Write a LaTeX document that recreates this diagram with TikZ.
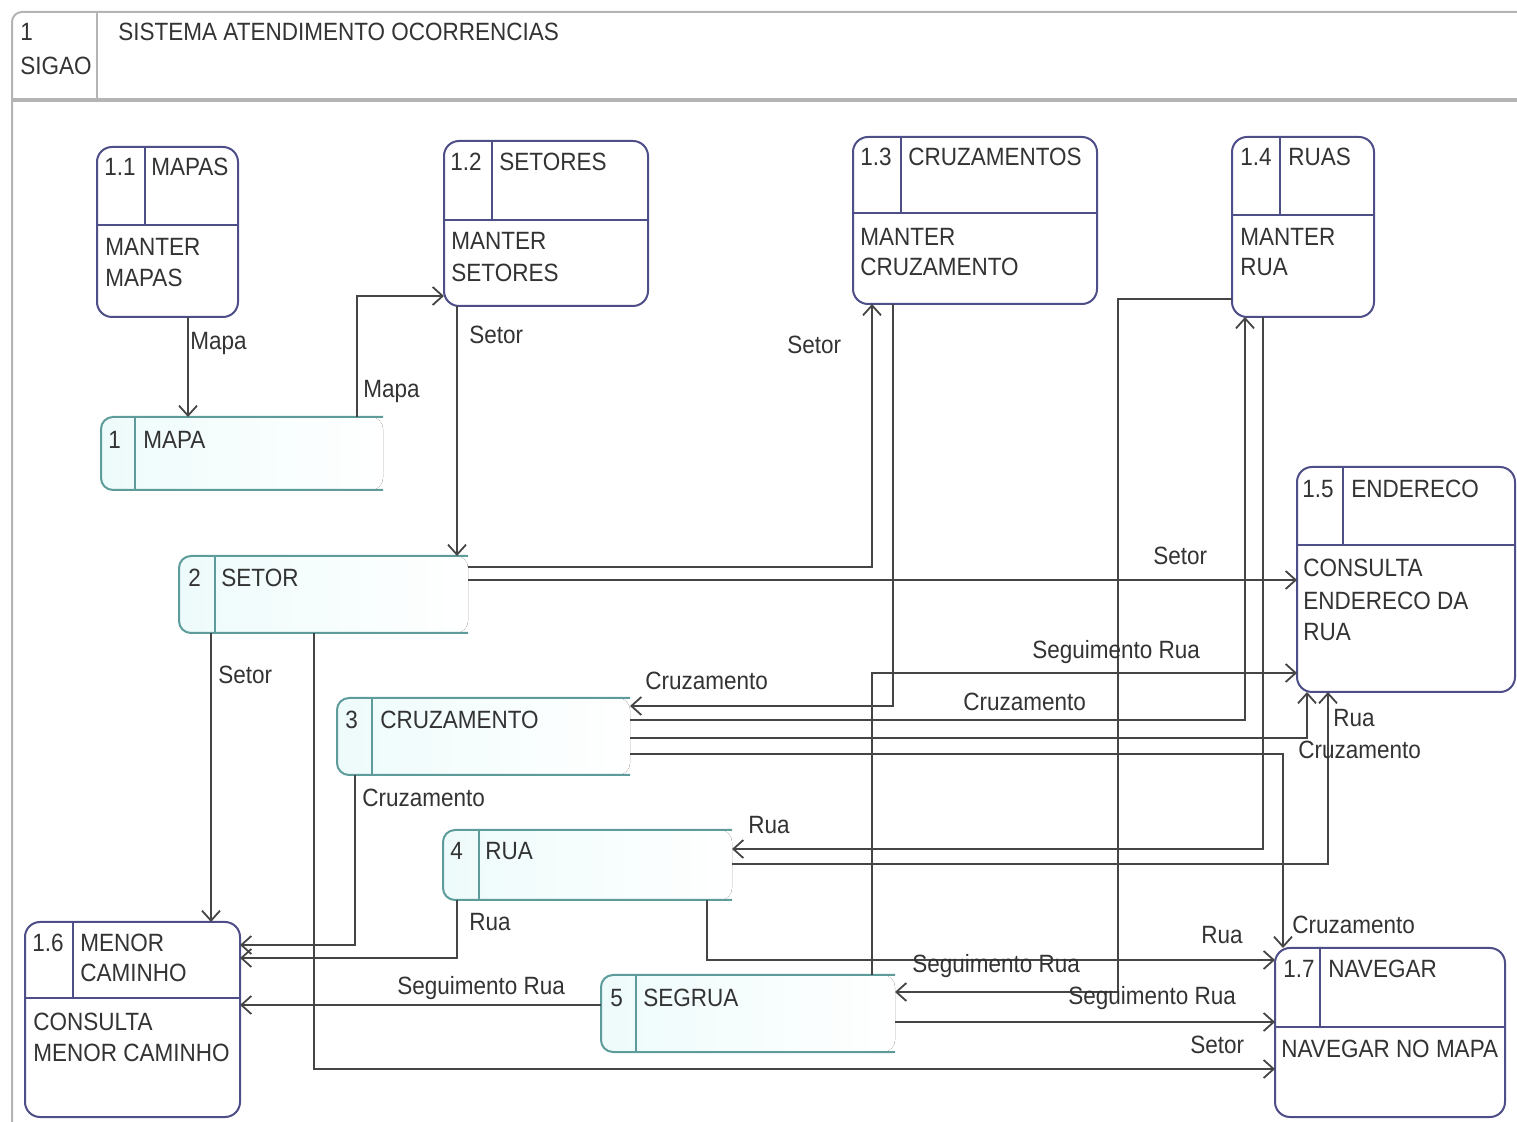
\documentclass[tikz,border=0pt]{standalone}
\usepackage{fontspec}
\setmainfont{Liberation Sans}[FakeStretch=0.9]
\usetikzlibrary{arrows.meta,calc,fit}
\definecolor{procc}{HTML}{4E4E88}
\definecolor{storec}{HTML}{5E9C9C}
\definecolor{storefill}{HTML}{EEFBFB}
\definecolor{flowc}{HTML}{454545}
\definecolor{framec}{HTML}{B4B4B4}
\definecolor{txtc}{HTML}{333333}

% process: name, corner, corner, divider depth, id column width
\newcommand\dfdproc[5]{%
  \node[proc, fit={#2 #3}] (#1) {};
  \draw[procline] ($(#1.north west)+(0,#4)$) -- ($(#1.north east)+(0,#4)$);
  \draw[procline] ($(#1.north west)+(#5,0)$) -- ($(#1.north west)+(#5,#4)$);
}
% data store: name, corner, corner, id column width
\newcommand\dfdstore[4]{%
  \node[fit={#2 #3}, inner sep=0pt, outer sep=0pt] (#1) {};
  \fill[left color=storefill, right color=white, rounded corners=6pt]
    (#1.north east) -- (#1.north west) -- (#1.south west) -- (#1.south east) -- cycle;
  \draw[storeline, rounded corners=6pt]
    (#1.north east) -- (#1.north west) -- (#1.south west) -- (#1.south east);
  \draw[storeline] ($(#1.north west)+(#4,0)$) -- ($(#1.south west)+(#4,0)$);
}

\begin{document}
\begin{tikzpicture}[x=0.5pt,y=-0.5pt,
  font=\fontsize{12.5pt}{14pt}\selectfont, text=txtc,
  proc/.style={draw=procc, line width=1pt, rounded corners=7.5pt, fill=white, inner sep=0pt, outer sep=0pt},
  procline/.style={draw=procc, line width=1pt},
  storeline/.style={draw=storec, line width=1pt},
  flow/.style={draw=flowc, line width=0.9pt, -{Straight Barb[length=5pt,width=9pt]}},
  lbl/.style={anchor=west, inner sep=0pt},
  framel/.style={draw=framec, line width=1pt}]

\useasboundingbox (0,0) rectangle (1517,1122);

% outer context frame
\draw[framel, rounded corners=5pt] (1517,12) -- (12,12) -- (12,1122);
\draw[framel, line width=1.6pt] (12,100) -- (1517,100);
\draw[framel] (97,12) -- (97,100);
\node[lbl] (hid) at (20,32) {1};
\node[lbl] (hname) at (20,66) {SIGAO};
\node[lbl] (htitle) at (118,32) {SISTEMA ATENDIMENTO OCORRENCIAS};

% processes
\dfdproc{p11}{(97,147)}{(238,317)}{78}{48}
\dfdproc{p12}{(444,141)}{(648,306)}{79}{48}
\dfdproc{p13}{(853,137)}{(1097,304)}{76}{48}
\dfdproc{p14}{(1232,137)}{(1374,317)}{78}{48}
\dfdproc{p15}{(1297,467)}{(1515,692)}{78}{46}
\dfdproc{p16}{(25,922)}{(240,1117)}{76}{48}
\dfdproc{p17}{(1275,948)}{(1505,1117)}{79}{45}

% data stores
\dfdstore{s1}{(101,417)}{(383,490)}{34}
\dfdstore{s2}{(179,556)}{(468,633)}{36}
\dfdstore{s3}{(337,698)}{(630,775)}{35}
\dfdstore{s4}{(443,830)}{(732,900)}{36}
\dfdstore{s5}{(601,975)}{(895,1052)}{35}

% process texts
\node[lbl] (p11id) at (104,167) {1.1};
\node[lbl] (p11nm) at (151,167) {MAPAS};
\node[lbl] (p11a) at (105,247) {MANTER};
\node[lbl] (p11b) at (105,278) {MAPAS};

\node[lbl] (p12id) at (450,162) {1.2};
\node[lbl] (p12nm) at (499,162) {SETORES};
\node[lbl] (p12a) at (451,241) {MANTER};
\node[lbl] (p12b) at (451,273) {SETORES};

\node[lbl] (p13id) at (860,157) {1.3};
\node[lbl] (p13nm) at (908,157) {CRUZAMENTOS};
\node[lbl] (p13a) at (860,237) {MANTER};
\node[lbl] (p13b) at (860,267) {CRUZAMENTO};

\node[lbl] (p14id) at (1240,157) {1.4};
\node[lbl] (p14nm) at (1288,157) {RUAS};
\node[lbl] (p14a) at (1240,237) {MANTER};
\node[lbl] (p14b) at (1240,267) {RUA};

\node[lbl] (p15id) at (1302,489) {1.5};
\node[lbl] (p15nm) at (1351,489) {ENDERECO};
\node[lbl] (p15a) at (1303,568) {CONSULTA};
\node[lbl] (p15b) at (1303,601) {ENDERECO DA};
\node[lbl] (p15c) at (1303,632) {RUA};

\node[lbl] (p16id) at (32,943) {1.6};
\node[lbl] (p16nm) at (80,943) {MENOR};
\node[lbl] (p16nm2) at (80,973) {CAMINHO};
\node[lbl] (p16a) at (33,1022) {CONSULTA};
\node[lbl] (p16b) at (33,1053) {MENOR CAMINHO};

\node[lbl] (p17id) at (1283,969) {1.7};
\node[lbl] (p17nm) at (1328,969) {NAVEGAR};
\node[lbl] (p17a) at (1281,1049) {NAVEGAR NO MAPA};

% store texts
\node[lbl] (s1id) at (108,440) {1};
\node[lbl] (s1nm) at (143,440) {MAPA};
\node[lbl] (s2id) at (188,578) {2};
\node[lbl] (s2nm) at (221,578) {SETOR};
\node[lbl] (s3id) at (345,720) {3};
\node[lbl] (s3nm) at (380,720) {CRUZAMENTO};
\node[lbl] (s4id) at (450,851) {4};
\node[lbl] (s4nm) at (485,851) {RUA};
\node[lbl] (s5id) at (610,998) {5};
\node[lbl] (s5nm) at (643,998) {SEGRUA};

% data flows
\draw[flow] ($(p11.south west)+(91,0)$) -- ($(s1.north west)+(87,0)$);
\draw[flow] ($(s1.north west)+(256,0)$) |- ($(p12.south west)+(0,-10)$);
\draw[flow] ($(p12.south west)+(13,0)$) -- ($(s2.north west)+(278,0)$);
\draw[flow] ($(s2.north east)+(0,11)$) -| ($(p13.south west)+(19,0)$);
\draw[flow] ($(s2.north east)+(0,24)$) -- ($(p15.north west)+(0,113)$);
\draw[flow] ($(s2.south west)+(32,0)$) -- ($(p16.north west)+(186,0)$);
\draw[flow] ($(s2.south west)+(135,0)$) |- ($(p17.south west)+(0,-48)$);
\draw[flow] ($(p13.south west)+(40,0)$) |- ($(s3.north east)+(0,8)$);
\draw[flow] ($(s3.north east)+(0,22)$) -| ($(p14.south west)+(13,0)$);
\draw[flow] ($(s3.north east)+(0,40)$) -| ($(p15.south west)+(10,0)$);
\draw[flow] ($(s3.north east)+(0,56)$) -| ($(p17.north west)+(8,0)$);
\draw[flow] ($(s3.south west)+(18,0)$) |- ($(p16.north east)+(0,23)$);
\draw[flow] ($(p14.south west)+(31,0)$) |- ($(s4.north east)+(0,19)$);
\draw[flow] ($(p14.south west)+(0,-18)$) -- ++(-114,0) |- ($(s5.north east)+(0,17)$);
\draw[flow] ($(s4.north east)+(0,34)$) -| ($(p15.south west)+(31,0)$);
\draw[flow] ($(s4.south west)+(14,0)$) |- ($(p16.north east)+(0,36)$);
\draw[flow] ($(s4.south west)+(264,0)$) |- ($(p17.north west)+(0,12)$);
\draw[flow] ($(s5.north west)+(0,30)$) -- ($(p16.north east)+(0,83)$);
\draw[flow] ($(s5.north east)+(0,47)$) -- ($(p17.north west)+(0,74)$);
\draw[flow] ($(s5.north west)+(271,0)$) |- ($(p15.north west)+(0,206)$);

% flow labels
\node[lbl] (fmapa1) at (190,344) {Mapa};
\node[lbl] (fmapa2) at (363,391) {Mapa};
\node[lbl] (fset1) at (469,335) {Setor};
\node[lbl] (fset2) at (787,345) {Setor};
\node[lbl] (fset3) at (1153,556) {Setor};
\node[lbl] (fset4) at (218,675) {Setor};
\node[lbl] (fset5) at (1190,1045) {Setor};
\node[lbl] (fcru1) at (645,681) {Cruzamento};
\node[lbl] (fcru2) at (963,702) {Cruzamento};
\node[lbl] (fcru3) at (1298,750) {Cruzamento};
\node[lbl] (fcru4) at (362,798) {Cruzamento};
\node[lbl] (fcru5) at (1292,925) {Cruzamento};
\node[lbl] (frua1) at (748,825) {Rua};
\node[lbl] (frua2) at (1333,718) {Rua};
\node[lbl] (frua3) at (469,922) {Rua};
\node[lbl] (frua4) at (1201,935) {Rua};
\node[lbl] (fseg1) at (1032,652) {Seguimento Rua};
\node[lbl] (fseg2) at (912,966) {Seguimento Rua};
\node[lbl] (fseg3) at (397,988) {Seguimento Rua};
\node[lbl] (fseg4) at (1068,998) {Seguimento Rua};

\end{tikzpicture}
\end{document}
